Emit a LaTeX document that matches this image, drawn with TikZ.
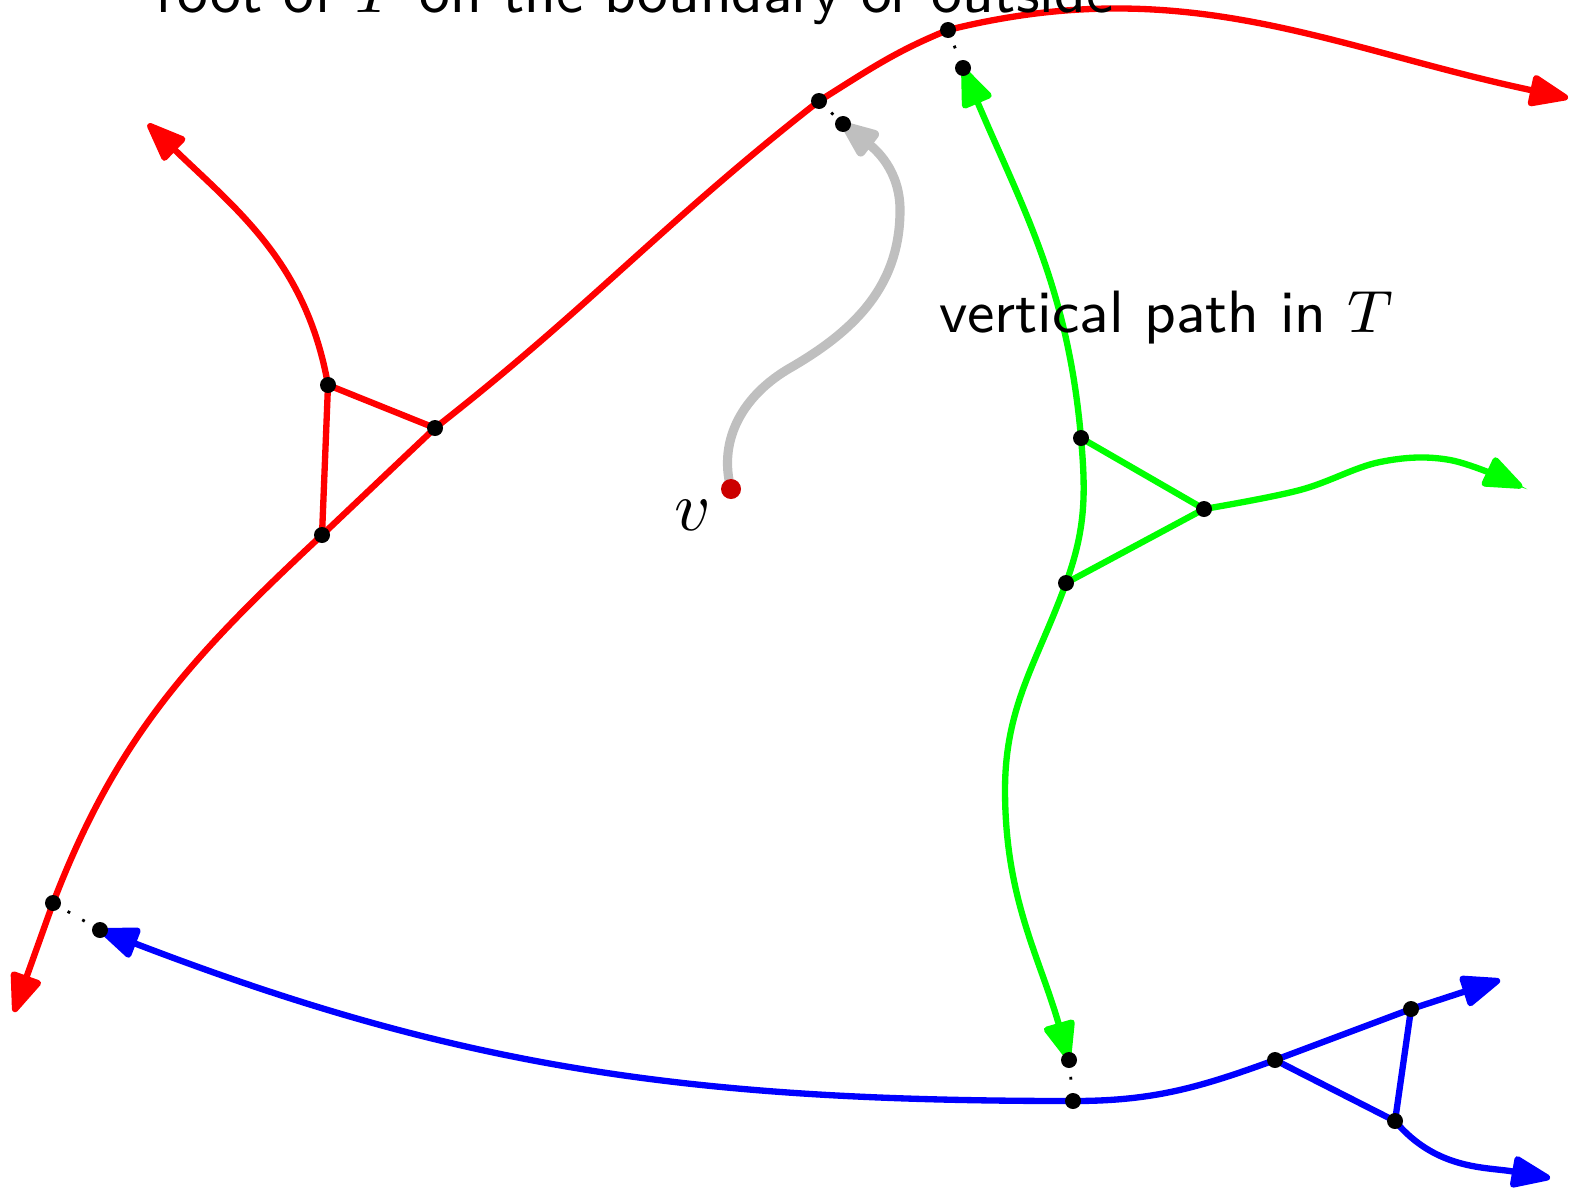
\RequirePackage{fix-cm}
\documentclass[tikz,border=0pt]{standalone}
\usetikzlibrary{arrows.meta}
\tikzset{
  tip/.tip={Triangle[length=6.3pt,width=4.7pt,round]},
  redline/.style={red, line width=0.9pt},
  greenline/.style={green, line width=0.9pt},
  blueline/.style={blue, line width=0.9pt},
  greyline/.style={black!25, line width=1.3pt},
  gap/.style={dotted, thin},
  vtx/.style={fill=black, circle, inner sep=0pt, minimum size=0.08cm},
  lbl/.style={font=\fontsize{8.5}{10}\selectfont\sffamily}
}
\begin{document}
\begin{tikzpicture}
\useasboundingbox (0,0) rectangle (7.86,5.94);
% red tree
\coordinate (r1) at (0.265,1.425);
\coordinate (r2) at (1.61,3.265);
\coordinate (r3) at (2.175,3.80);
\coordinate (r4) at (4.095,5.435);
\coordinate (r5) at (4.74,5.79);
\coordinate (r6) at (1.64,4.015);
\coordinate (rA) at (0.07,0.88);
\coordinate (rB) at (7.84,5.45);
\coordinate (rC) at (0.74,5.32);
% green tree
\coordinate (gT) at (4.815,5.60);
\coordinate (g1) at (5.405,3.75);
\coordinate (g2) at (6.02,3.395);
\coordinate (g3) at (5.33,3.025);
\coordinate (gM) at (5.025,1.99);
\coordinate (gB) at (5.345,0.64);
\coordinate (gR) at (7.61,3.505);
% blue tree
\coordinate (bL) at (0.50,1.29);
\coordinate (b1) at (5.365,0.435);
\coordinate (b2) at (6.375,0.64);
\coordinate (b3) at (7.055,0.895);
\coordinate (b4) at (6.975,0.335);
\coordinate (bR) at (7.50,1.04);
\coordinate (bS) at (7.75,0.05);
% root and v
\coordinate (gr) at (4.215,5.32);
\coordinate (v) at (3.655,3.495);
\coordinate (vm) at (3.95,4.10);
\coordinate (vt) at (4.50,4.89);

\draw[redline, tip-tip] (rA) -- (r1) to[out=69, in=223] (r2) -- (r3)
  to[out=38, in=218] (r4) to[out=32, in=202] (r5) to[out=14, in=168] (rB);
\draw[redline, -tip] (r6) to[out=100, in=-44] (rC);
\draw[redline] (r6) -- (r3) (r6) -- (r2);

\draw[greenline, tip-tip] (gT) to[out=-67, in=95] (g1) to[out=-85, in=70] (g3)
  to[out=-110, in=90] (gM) to[out=-90, in=106] (gB);
\draw[greenline] (g1) -- (g2) -- (g3);
\draw[greenline, -tip] plot[smooth, tension=0.6] coordinates {(g2) (6.50,3.49) (6.90,3.63) (7.25,3.64) (gR)};

\draw[blueline, tip-tip] (bL) to[out=-21, in=180] (b1) to[out=0, in=200] (b2) -- (b3) -- (bR);
\draw[blueline] (b2) -- (b4) -- (b3);
\draw[blueline, -tip] (b4) to[out=-50, in=170] (bS);

\draw[greyline, -tip] (v) to[out=105, in=210] (vm) to[out=30, in=-90] (vt) to[out=90, in=-38] (gr);

\draw[gap] (r1) -- (bL);
\draw[gap] (r4) -- (gr);
\draw[gap] (r5) -- (gT);
\draw[gap] (gB) -- (b1);

\foreach \p in {r1,r2,r3,r4,r5,r6,gT,g1,g2,g3,gB,bL,b1,b2,b3,b4,gr}
  \node[vtx] at (\p) {};
\node[fill=red!80!black, circle, inner sep=0pt, minimum size=0.1cm] (vdot) at (v) {};
\node (vlbl) at (3.465,3.365) {$v$};

\node[lbl, anchor=base] (rootlbl) at (3.175,5.88) {root of $T$ on the boundary or outside};
\node[lbl, anchor=base] (vertlbl) at (5.83,4.28) {vertical path in $T$};
\end{tikzpicture}
\end{document}
